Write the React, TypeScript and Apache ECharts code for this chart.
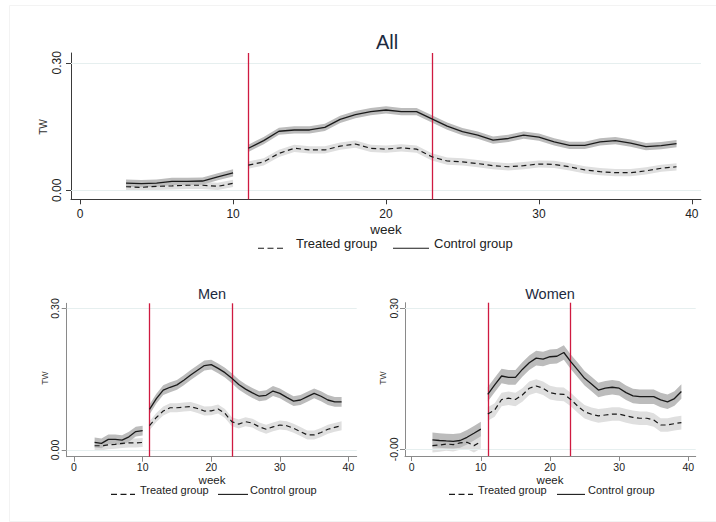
import React, { useEffect, useRef } from "react";
import * as echarts from "echarts";

// ---------- data ----------
const weeksPre = [3, 4, 5, 6, 7, 8, 9, 10];
const weeksPost = [11, 12, 13, 14, 15, 16, 17, 18, 19, 20, 21, 22, 23, 24, 25, 26, 27, 28, 29, 30, 31, 32, 33, 34, 35, 36, 37, 38, 39];
const eventWeeks = [11, 23];
const xTicks = [0, 10, 20, 30, 40];
const yTicks = [0, 0.3];
const yTickLabelsDefault = ["0.00", "0.30"];
const yTickLabelsWomen = ["-0.00", "0.30"];
const panelTitles = ["All", "Men", "Women"];
const legendLabels = ["Treated group", "Control group"];

const allControlPre = [0.017, 0.016, 0.017, 0.021, 0.021, 0.022, 0.032, 0.041];
const allTreatedPre = [0.0085, 0.007, 0.0095, 0.0105, 0.012, 0.012, 0.0095, 0.0166];
const allControlPost = [0.099, 0.117, 0.139, 0.142, 0.142, 0.148, 0.167, 0.178, 0.185, 0.189, 0.185, 0.185, 0.168, 0.151, 0.138, 0.13, 0.118, 0.122, 0.13, 0.125, 0.114, 0.106, 0.106, 0.114, 0.117, 0.111, 0.103, 0.105, 0.11];
const allTreatedPost = [0.0595, 0.067, 0.087, 0.099, 0.095, 0.095, 0.104, 0.109, 0.099, 0.097, 0.1, 0.097, 0.079, 0.069, 0.067, 0.063, 0.058, 0.0555, 0.058, 0.062, 0.061, 0.0555, 0.048, 0.044, 0.0415, 0.0415, 0.046, 0.052, 0.0555];

const menControlPre = [0.016, 0.014, 0.0226, 0.0226, 0.021, 0.028, 0.039, 0.041];
const menTreatedPre = [0.009, 0.009, 0.011, 0.012, 0.014, 0.015, 0.015, 0.016];
const menControlPost = [0.086, 0.109, 0.127, 0.133, 0.138, 0.148, 0.159, 0.169, 0.179, 0.181, 0.173, 0.164, 0.152, 0.139, 0.129, 0.121, 0.114, 0.116, 0.125, 0.12, 0.1115, 0.1037, 0.106, 0.113, 0.12, 0.114, 0.106, 0.102, 0.102];
const menTreatedPost = [0.0515, 0.069, 0.0826, 0.0896, 0.0896, 0.091, 0.092, 0.088, 0.0826, 0.083, 0.087, 0.0776, 0.06, 0.055, 0.06, 0.057, 0.049, 0.044, 0.049, 0.053, 0.0515, 0.046, 0.039, 0.032, 0.032, 0.037, 0.044, 0.048, 0.0515];

const womenControlPre = [0.02, 0.0187, 0.0177, 0.017, 0.0187, 0.0255, 0.034, 0.043];
const womenTreatedPre = [0.0078, 0.009, 0.0113, 0.01, 0.0135, 0.015, 0.0078, 0.0163];
const womenControlPost = [0.117, 0.137, 0.156, 0.153, 0.153, 0.17, 0.184, 0.194, 0.192, 0.197, 0.198, 0.206, 0.1865, 0.169, 0.151, 0.139, 0.126, 0.13, 0.132, 0.13, 0.1205, 0.1135, 0.112, 0.112, 0.112, 0.105, 0.101, 0.108, 0.123];
const womenTreatedPost = [0.075, 0.0837, 0.106, 0.1087, 0.106, 0.1156, 0.13, 0.1348, 0.13, 0.1205, 0.1177, 0.117, 0.106, 0.092, 0.08, 0.0745, 0.071, 0.073, 0.075, 0.075, 0.071, 0.068, 0.066, 0.066, 0.0624, 0.0517, 0.0517, 0.0546, 0.0567];

// confidence band half-widths (control, treated)
const allBand = [0.0085, 0.0085];
const menBand = [0.0105, 0.0095];
const womenBand = [0.0155, 0.0145];

// ---------- styling / layout ----------
const FONT = "'Liberation Sans', Arial, sans-serif";
const CONTROL_BAND = "#bcbcbc";
const TREATED_BAND = "#dfdfdf";
const RED = "#cf1a40";
const GRIDLINE = "#e6efef";

type PanelLayout = {
  grid: { left: number; top: number; width: number; height: number };
  xMin: number; xMax: number; yMin: number; yMax: number;
  tickFont: number; yLabelMargin: number; xLabelMargin: number; axisColor: string;
  title: [number, number, number];
  tw: [number, number, number];
  week: [number, number, number];
  legendY: number; legendFont: number;
  treatedKey: [number, number]; treatedText: number;
  controlKey: [number, number]; controlText: number;
};

const layouts: PanelLayout[] = [
  {
    grid: { left: 71, top: 53, width: 630, height: 146.3 },
    xMin: -0.6, xMax: 40.6, yMin: -0.021, yMax: 0.323,
    tickFont: 12, yLabelMargin: 8, xLabelMargin: 9, axisColor: "#3a3a3a",
    title: [387, 42, 20], tw: [43, 127, 10], week: [386, 229, 13.5],
    legendY: 243, legendFont: 13,
    treatedKey: [258, 285], treatedText: 296,
    controlKey: [393, 429], controlText: 434,
  },
  {
    grid: { left: 66.7, top: 303.3, width: 290, height: 153.4 },
    xMin: -1.07, xMax: 41.2, yMin: -0.0142, yMax: 0.311,
    tickFont: 10.5, yLabelMargin: 6, xLabelMargin: 5, axisColor: "#8a8a8a",
    title: [212, 294, 14.5], tw: [45, 378, 8.6], week: [212, 480, 11.5],
    legendY: 490, legendFont: 11,
    treatedKey: [111, 135], treatedText: 140,
    controlKey: [218, 248], controlText: 250,
  },
  {
    grid: { left: 405, top: 302.7, width: 290.7, height: 153.3 },
    xMin: -0.97, xMax: 41.07, yMin: -0.0143, yMax: 0.312,
    tickFont: 10.5, yLabelMargin: 6, xLabelMargin: 5, axisColor: "#8a8a8a",
    title: [550, 294, 14.5], tw: [383, 378, 8.6], week: [550, 480, 11.5],
    legendY: 490, legendFont: 11,
    treatedKey: [449, 473], treatedText: 478,
    controlKey: [557, 585], controlText: 588,
  },
];

const panelData = [
  { cPre: allControlPre, tPre: allTreatedPre, cPost: allControlPost, tPost: allTreatedPost, band: allBand, yLabels: yTickLabelsDefault },
  { cPre: menControlPre, tPre: menTreatedPre, cPost: menControlPost, tPost: menTreatedPost, band: menBand, yLabels: yTickLabelsDefault },
  { cPre: womenControlPre, tPre: womenTreatedPre, cPost: womenControlPost, tPost: womenTreatedPost, band: womenBand, yLabels: yTickLabelsWomen },
];

function bandSeries(gi: number, weeks: number[], vals: number[], hw: number, color: string, z: number) {
  const pts = weeks.map((w, i) => [w, vals[i] - hw, vals[i] + hw]);
  return {
    type: "custom",
    xAxisIndex: gi,
    yAxisIndex: gi,
    silent: true,
    z,
    data: pts,
    encode: { x: 0, y: [1, 2] },
    renderItem: (params: any, api: any) => {
      if (params.dataIndex !== 0) return null;
      const upper = pts.map((p) => api.coord([p[0], p[2]]));
      const lower = pts.slice().reverse().map((p) => api.coord([p[0], p[1]]));
      return { type: "polygon", shape: { points: upper.concat(lower) }, style: { fill: color } };
    },
  };
}

function lineSeries(gi: number, weeks: number[], vals: number[], dashed: boolean, extra: any = {}) {
  return {
    type: "line",
    xAxisIndex: gi,
    yAxisIndex: gi,
    data: weeks.map((w, i) => [w, vals[i]]),
    showSymbol: false,
    symbol: "none",
    silent: true,
    z: 5,
    lineStyle: { color: "#1a1a1a", width: dashed ? 1.2 : 1.3, type: dashed ? [5, 3.5] : "solid" },
    ...extra,
  };
}

export default function App() {
  const ref = useRef<HTMLDivElement>(null);
  useEffect(() => {
    if (!ref.current) return;
    const chart = echarts.init(ref.current, undefined, { renderer: "svg" });

    const grids: any[] = [];
    const xAxes: any[] = [];
    const yAxes: any[] = [];
    const series: any[] = [];
    const graphics: any[] = [];

    layouts.forEach((L, gi) => {
      const D = panelData[gi];
      grids.push({ ...L.grid, containLabel: false });
      xAxes.push({
        gridIndex: gi,
        type: "value",
        min: L.xMin,
        max: L.xMax,
        axisLine: { show: true, onZero: false, lineStyle: { color: L.axisColor, width: 1 } },
        axisTick: { show: true, length: 5, customValues: xTicks, lineStyle: { color: L.axisColor } },
        axisLabel: { customValues: xTicks, fontSize: L.tickFont, color: "#222", fontFamily: FONT, margin: L.xLabelMargin },
        splitLine: { show: false },
      });
      yAxes.push({
        gridIndex: gi,
        type: "value",
        min: L.yMin,
        max: L.yMax,
        axisLine: { show: true, onZero: false, lineStyle: { color: L.axisColor, width: 1 } },
        axisTick: { show: true, length: 5, customValues: yTicks, lineStyle: { color: L.axisColor } },
        axisLabel: {
          customValues: yTicks,
          rotate: 90,
          fontSize: L.tickFont,
          color: "#222",
          fontFamily: FONT,
          margin: L.yLabelMargin,
          formatter: (v: number) => {
            const idx = yTicks.findIndex((t) => Math.abs(t - v) < 1e-9);
            return idx >= 0 ? D.yLabels[idx] : "";
          },
        },
        splitLine: { show: false },
      });

      // gridlines (drawn under everything)
      series.push({
        type: "line",
        xAxisIndex: gi,
        yAxisIndex: gi,
        data: [],
        silent: true,
        z: 0,
        markLine: {
          silent: true,
          symbol: "none",
          label: { show: false },
          lineStyle: { color: GRIDLINE, width: 1.2, type: "solid" },
          data: yTicks.map((t) => ({ yAxis: t })),
        },
      });

      // bands
      series.push(bandSeries(gi, weeksPre, D.tPre, D.band[1], TREATED_BAND, 1));
      series.push(bandSeries(gi, weeksPost, D.tPost, D.band[1], TREATED_BAND, 1));
      series.push(bandSeries(gi, weeksPre, D.cPre, D.band[0], CONTROL_BAND, 2));
      series.push(bandSeries(gi, weeksPost, D.cPost, D.band[0], CONTROL_BAND, 2));

      // lines
      series.push(lineSeries(gi, weeksPre, D.tPre, true));
      series.push(lineSeries(gi, weeksPost, D.tPost, true));
      series.push(lineSeries(gi, weeksPre, D.cPre, false));
      series.push(
        lineSeries(gi, weeksPost, D.cPost, false, {
          markLine: {
            silent: true,
            symbol: "none",
            label: { show: false },
            lineStyle: { color: RED, width: 1.3, type: "solid" },
            data: eventWeeks.map((w) => ({ xAxis: w })),
          },
        })
      );

      // texts
      graphics.push({
        type: "text", x: L.title[0], y: L.title[1],
        style: { text: panelTitles[gi], fontSize: L.title[2], fontFamily: FONT, fill: "#1c2a40", align: "center", verticalAlign: "middle" },
      });
      graphics.push({
        type: "text", x: L.tw[0], y: L.tw[1], rotation: Math.PI / 2,
        style: { text: "TW", fontSize: L.tw[2], fontFamily: FONT, fill: "#333", align: "center", verticalAlign: "middle" },
      });
      graphics.push({
        type: "text", x: L.week[0], y: L.week[1],
        style: { text: "week", fontSize: L.week[2], fontFamily: FONT, fill: "#222", align: "center", verticalAlign: "middle" },
      });
      const ky = L.legendY + L.legendFont * 0.4;
      graphics.push({
        type: "line",
        shape: { x1: L.treatedKey[0], y1: ky, x2: L.treatedKey[1], y2: ky },
        style: { stroke: "#1a1a1a", lineWidth: 1.1, lineDash: [6, 3.5] },
      });
      graphics.push({
        type: "line",
        shape: { x1: L.controlKey[0], y1: ky, x2: L.controlKey[1], y2: ky },
        style: { stroke: "#1a1a1a", lineWidth: 1.1 },
      });
      graphics.push({
        type: "text", x: L.treatedText, y: L.legendY,
        style: { text: legendLabels[0], fontSize: L.legendFont, fontFamily: FONT, fill: "#222", align: "left", verticalAlign: "middle" },
      });
      graphics.push({
        type: "text", x: L.controlText, y: L.legendY,
        style: { text: legendLabels[1], fontSize: L.legendFont, fontFamily: FONT, fill: "#222", align: "left", verticalAlign: "middle" },
      });
    });

    // faint outer frame
    graphics.push({ type: "line", shape: { x1: 9.5, y1: 5.5, x2: 716, y2: 5.5 }, style: { stroke: "#f3f3f3", lineWidth: 1 } });
    graphics.push({ type: "line", shape: { x1: 9.5, y1: 5.5, x2: 9.5, y2: 521.5 }, style: { stroke: "#f3f3f3", lineWidth: 1 } });
    graphics.push({ type: "line", shape: { x1: 9.5, y1: 521.5, x2: 716, y2: 521.5 }, style: { stroke: "#f3f3f3", lineWidth: 1 } });

    chart.setOption({
      animation: false,
      backgroundColor: "#ffffff",
      textStyle: { fontFamily: FONT },
      grid: grids,
      xAxis: xAxes,
      yAxis: yAxes,
      series,
      graphic: graphics,
    });
    return () => chart.dispose();
  }, []);

  return <div ref={ref} style={{ position: "fixed", left: 0, top: 0, width: 716, height: 522 }} />;
}
